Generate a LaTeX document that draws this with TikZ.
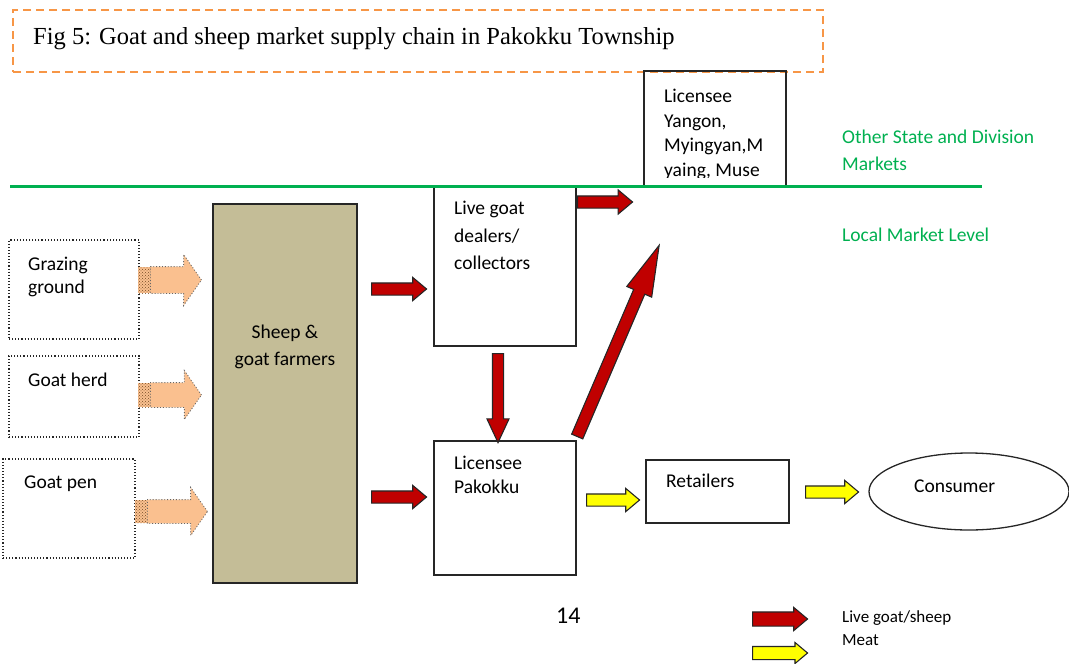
\documentclass[tikz,border=0pt]{standalone}
\usepackage{fontspec}
\setmainfont{Carlito}
\newfontfamily\titlefont{Liberation Serif}
\usetikzlibrary{shapes.arrows,shapes.geometric,patterns}
\definecolor{ttlorange}{RGB}{247,150,70}
\definecolor{lvgreen}{RGB}{0,176,80}
\definecolor{farmtan}{RGB}{196,189,151}
\definecolor{livered}{RGB}{192,0,0}
\definecolor{meatyellow}{RGB}{255,255,0}
\definecolor{peach}{RGB}{250,192,143}
\begin{document}
\begin{tikzpicture}[x=1pt,y=-1pt,
  box/.style={draw=black!85,line width=1.3pt,inner sep=0pt},
  dotbox/.style={draw=black!85,line width=1.1pt,dotted,inner sep=0pt},
  txt/.style={anchor=base west,inner sep=0pt,font=\fontsize{19.5}{23}\selectfont},
  ctxt/.style={txt,anchor=base},
  grntxt/.style={txt,text=lvgreen},
  legtxt/.style={anchor=base west,inner sep=0pt,font=\fontsize{17}{20}\selectfont},
  arrbase/.style={single arrow,anchor=tail,inner xsep=0pt,draw=black!85,line width=1.1pt},
  redarr/.style={arrbase,fill=livered,inner ysep=5.5pt,single arrow head extend=5.5pt,single arrow tip angle=80,minimum height=55pt},
  yelarr/.style={arrbase,fill=meatyellow,inner ysep=5.5pt,single arrow head extend=5.5pt,single arrow tip angle=80,minimum height=53pt},
  peacharr/.style={single arrow,anchor=tail,inner xsep=0pt,inner ysep=13pt,fill=peach,draw=black!60,dotted,line width=0.9pt,single arrow head extend=12pt,single arrow tip angle=110},
  tailpat/.style={pattern=crosshatch dots,pattern color=brown!60!black}
]
\useasboundingbox (0,0) rectangle (1069,664);

% title
\node[draw=ttlorange,line width=2.2pt,dash pattern=on 8pt off 5pt,minimum width=810pt,minimum height=62pt,inner sep=0pt] (title) at (418,41) {};
\node[anchor=base west,inner sep=0pt,font=\titlefont\fontsize{24.5}{28}\selectfont] (titletxt) at (33,44) {Fig 5: Goat and sheep market supply chain in Pakokku Township};

% upper box
\node[box,minimum width=142pt,minimum height=115pt] (yangon) at (715,128.5) {};
\begin{scope}
\clip (644,71) rectangle (786,177.5);
\node[txt] (y1) at (664,102) {Licensee};
\node[txt] (y2) at (664,127) {Yangon,};
\node[txt] (y3) at (664,151) {Myingyan,M};
\node[txt] (y4) at (664,176) {yaing, Muse};
\end{scope}

\node[grntxt] (other1) at (842,143) {Other State and Division};
\node[grntxt] (other2) at (842,170) {Markets};
\node[grntxt] (local) at (842,241) {Local Market Level};

% source boxes
\node[dotbox,minimum width=130pt,minimum height=99pt] (graze) at (74,289.5) {};
\node[dotbox,minimum width=130pt,minimum height=81pt] (herd) at (74,396.5) {};
\node[dotbox,minimum width=132pt,minimum height=99pt] (pen) at (69,508.5) {};
\node[txt] (g1) at (28,270) {Grazing};
\node[txt] (g2) at (28,293) {ground};
\node[txt] (h1) at (28,386) {Goat herd};
\node[txt] (p1) at (24,488) {Goat pen};

% peach arrows
\fill[peach] (138,267) rectangle (151,293);
\fill[tailpat] (138,267) rectangle (151,293);
\node[peacharr,minimum height=51pt] (pa1) at (150,280) {};
\fill[peach] (138,383) rectangle (151,407);
\fill[tailpat] (138,383) rectangle (151,407);
\node[peacharr,inner ysep=12pt,minimum height=51pt] (pa2) at (150,395) {};
\fill[peach] (135,500) rectangle (148,523);
\fill[tailpat] (135,500) rectangle (148,523);
\node[peacharr,inner ysep=11.5pt,minimum height=60pt] (pa3) at (147,511.5) {};

% farmers
\node[box,fill=farmtan,minimum width=144pt,minimum height=379pt] (farmers) at (285,393.5) {};
\node[ctxt] (f1) at (285,338) {Sheep \&};
\node[ctxt] (f2) at (285,365) {goat farmers};

% dealers and licensee
\node[box,minimum width=142pt,minimum height=160pt] (dealers) at (505,266) {};
\node[txt] (d1) at (454,214) {Live goat};
\node[txt] (d2) at (454,242) {dealers/};
\node[txt] (d3) at (454,269) {collectors};
\node[box,minimum width=142pt,minimum height=134pt] (pakokku) at (505,508) {};
\node[txt] (k1) at (454,469) {Licensee};
\node[txt] (k2) at (454,493) {Pakokku};

% retailers, consumer
\node[box,minimum width=143pt,minimum height=63pt] (retail) at (717.5,491.5) {};
\node[txt] (r1) at (666,487) {Retailers};
\node[draw=black!85,line width=1.3pt,ellipse,minimum width=200pt,minimum height=77pt,inner sep=0pt] (consumer) at (969,491.5) {};
\node[txt] (c1) at (914,492) {Consumer};

% red arrows
\node[redarr] (ra1) at (371,289) {};
\node[redarr] (ra2) at (371,497) {};
\node[redarr,single arrow head extend=6pt] (ra3) at (577,202) {};
\node[redarr,rotate=-90,minimum height=89pt,inner ysep=5pt,single arrow head extend=5.5pt,single arrow tip angle=50] (ra4) at (498,353) {};
\node[redarr,rotate=66.8,minimum height=208pt,inner ysep=5.5pt,single arrow head extend=7.5pt,single arrow tip angle=30] (ra5) at (577,437) {};

% yellow arrows
\node[yelarr] (ya1) at (586,500) {};
\node[yelarr] (ya2) at (805,492) {};

% green level line
\draw[lvgreen,line width=3pt] (10,186) -- (982,186);

% page number
\node[anchor=base west,inner sep=0pt,font=\fontsize{24}{28}\selectfont] (pagenum) at (556,623) {14};

% legend
\node[redarr,minimum height=55pt,inner ysep=6.5pt,single arrow head extend=4.5pt] (legred) at (752,619) {};
\node[yelarr,minimum height=55pt,inner ysep=6pt,single arrow head extend=4pt] (legyel) at (752,653) {};
\node[legtxt] (l1) at (842,622) {Live goat/sheep};
\node[legtxt] (l2) at (842,645) {Meat};
\end{tikzpicture}
\end{document}
